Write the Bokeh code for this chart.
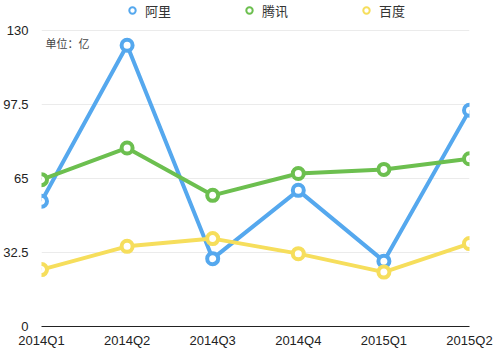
from bokeh.plotting import figure
from bokeh.models import (Range1d, FixedTicker, CustomJSTickFormatter, Legend, LegendItem, Label)
from bokeh.embed import file_html
from bokeh.resources import INLINE

quarters = ["2014Q1", "2014Q2", "2014Q3", "2014Q4", "2015Q1", "2015Q2"]
ali = [55.0, 123.5, 29.8, 59.8, 28.7, 95.0]
tencent = [64.5, 78.4, 57.6, 67.2, 69.0, 73.7]
baidu = [25.0, 35.2, 38.6, 32.0, 23.9, 36.4]
y_ticks = [0, 32.5, 65, 97.5, 130]
series_names = ["阿里", "腾讯", "百度"]
colors = ["#55a8ee", "#6cbf4f", "#f6de5c"]

xs = list(range(len(quarters)))

# frame spans the whole top; the 130 gridline sits 30px below the top edge
FRAME_H = 326
Y_MAX = 130
y_top = Y_MAX * FRAME_H / (FRAME_H - 30)

p = figure(width=500, height=352, output_backend="svg", toolbar_location=None,
           x_range=Range1d(0, len(quarters) - 1), y_range=Range1d(0, y_top),
           min_border_left=40, min_border_right=31, min_border_top=0, min_border_bottom=26)
p.outline_line_color = None
p.background_fill_color = "white"
p.border_fill_color = "white"

legend_items = []
for name, vals, col in zip(series_names, [ali, tencent, baidu], colors):
    p.line(xs, vals, line_color=col, line_width=4)
    p.scatter(xs, vals, size=11, fill_color="white", line_color=col, line_width=4)
    lr = p.scatter(xs, vals, size=8, fill_color="white", line_color=col, line_width=2)
    lr.visible = False
    legend_items.append(LegendItem(label=name, renderers=[lr]))

legend = Legend(items=legend_items, orientation="horizontal", location=(83, 306),
                glyph_width=16, glyph_height=16, label_standoff=5, spacing=70,
                padding=0, margin=0, border_line_color=None, background_fill_alpha=0,
                label_text_font="Noto Sans CJK SC", label_text_font_size="13px",
                label_text_color="#333333", label_height=20,
                inactive_fill_alpha=0)
p.add_layout(legend)

# axes
p.xaxis.ticker = FixedTicker(ticks=xs)
p.xaxis.major_label_overrides = {i: q for i, q in enumerate(quarters)}
p.xaxis.major_tick_line_color = None
p.xaxis.major_tick_out = 0
p.xaxis.major_tick_in = 0
p.xaxis.minor_tick_line_color = None
p.xaxis.axis_line_color = "#222222"
p.xaxis.axis_line_width = 1
p.xaxis.major_label_standoff = 6
p.xaxis.major_label_text_font = "Liberation Sans"
p.xaxis.major_label_text_font_size = "13px"
p.xaxis.major_label_text_color = "#222222"

p.yaxis.ticker = FixedTicker(ticks=y_ticks)
p.yaxis.formatter = CustomJSTickFormatter(code="return tick.toString();")
p.yaxis.major_tick_line_color = None
p.yaxis.major_tick_out = 0
p.yaxis.major_tick_in = 0
p.yaxis.minor_tick_line_color = None
p.yaxis.axis_line_color = None
p.yaxis.major_label_standoff = 13
p.yaxis.major_label_text_font = "Liberation Sans"
p.yaxis.major_label_text_font_size = "13px"
p.yaxis.major_label_text_color = "#222222"

p.xgrid.grid_line_color = None
p.ygrid.grid_line_color = "#ebebeb"
p.ygrid.grid_line_width = 1

p.add_layout(Label(x=0, y=Y_MAX, x_offset=4, y_offset=-4, text="单位：亿",
                   text_font="Noto Sans CJK SC", text_font_size="11px",
                   text_color="#444444", text_baseline="top"))

open("out.html", "w").write(file_html(p, INLINE))
